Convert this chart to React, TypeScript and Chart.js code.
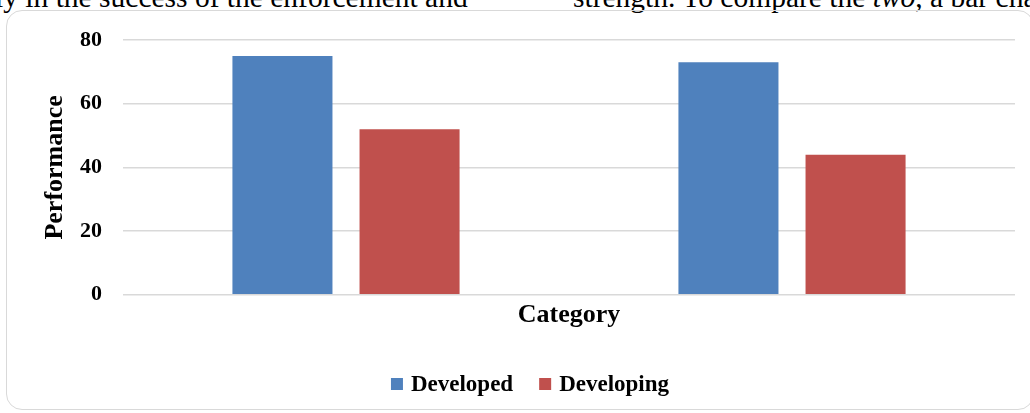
import React, { useEffect, useRef } from "react";
import { Chart, registerables } from "chart.js";

Chart.register(...registerables);

// Chart data
const categories = ["", ""];
const seriesNames = ["Developed", "Developing"];
const developed = [75, 73];
const developing = [52, 44];
const yTicks = [0, 20, 40, 60, 80];
const xAxisTitle = "Category";
const yAxisTitle = "Performance";

// Surrounding document text
const leftLine = "ly in the success of the enforcement and";
const rightLineStart = "strength. To compare the ";
const rightLineItalic = "two";
const rightLineEnd = ", a bar chart";

const BLUE = "#4f81bd";
const RED = "#c0504d";
const GRID = "#d9d9d9";
const SERIF = "'Liberation Serif', 'Times New Roman', serif";

const PAD_LEFT = 40;
const PLOT_LEFT = 123;
const LEGEND_CENTER_X = 530;
const LEGEND_BASELINE = 391;

// Legend drawn as a single centred row of square swatches under the axis title
const bottomLegend = {
  id: "bottomLegend",
  afterDraw(chart: any) {
    const ctx: CanvasRenderingContext2D = chart.ctx;
    ctx.save();
    ctx.font = `bold 23px ${SERIF}`;
    ctx.textBaseline = "alphabetic";
    ctx.textAlign = "left";
    const box = 12;
    const gap = 8;
    const itemGap = 26;
    const items = chart.data.datasets.map((ds: any) => ({
      label: ds.label as string,
      color: ds.backgroundColor as string,
      w: ctx.measureText(ds.label).width,
    }));
    const total = items.reduce(
      (s: number, it: any, i: number) => s + box + gap + it.w + (i ? itemGap : 0),
      0
    );
    let x = LEGEND_CENTER_X - total / 2;
    items.forEach((it: any) => {
      ctx.fillStyle = it.color;
      ctx.fillRect(x, LEGEND_BASELINE - 13, box, box);
      x += box + gap;
      ctx.fillStyle = "#000";
      ctx.fillText(it.label, x, LEGEND_BASELINE);
      x += it.w + itemGap;
    });
    ctx.restore();
  },
};

const docTextStyle: React.CSSProperties = {
  position: "absolute",
  top: -17,
  fontFamily: SERIF,
  fontSize: 29.5,
  lineHeight: "29.5px",
  whiteSpace: "nowrap",
  color: "#000",
};

export default function App() {
  const canvasRef = useRef<HTMLCanvasElement | null>(null);

  useEffect(() => {
    if (!canvasRef.current) return;
    const titleFont = { family: SERIF, size: 26, weight: "bold" as const };
    const chart = new Chart(canvasRef.current, {
      type: "bar",
      data: {
        labels: categories,
        datasets: [
          { label: seriesNames[0], data: developed, backgroundColor: BLUE, borderWidth: 0 },
          { label: seriesNames[1], data: developing, backgroundColor: RED, borderWidth: 0 },
        ],
      },
      options: {
        responsive: false,
        animation: false,
        devicePixelRatio: 1,
        datasets: { bar: { barPercentage: 0.787, categoryPercentage: 0.57 } },
        layout: { padding: { left: PAD_LEFT, right: 15, top: 40, bottom: 82 } },
        plugins: { legend: { display: false }, tooltip: { enabled: false } },
        scales: {
          x: {
            type: "category",
            grid: { display: false, drawTicks: false },
            border: { display: false },
            ticks: { display: false },
            title: {
              display: true,
              text: xAxisTitle,
              color: "#000",
              font: titleFont,
              padding: { top: 5, bottom: 0 },
            },
          },
          y: {
            min: yTicks[0],
            max: yTicks[yTicks.length - 1],
            afterBuildTicks(scale: any) {
              scale.ticks = yTicks.map((v) => ({ value: v }));
            },
            afterFit(scale: any) {
              scale.width = PLOT_LEFT - PAD_LEFT;
            },
            ticks: {
              padding: 21,
              color: "#000",
              font: { family: SERIF, size: 22, weight: "bold" },
            },
            grid: { color: GRID, lineWidth: 1.5, drawTicks: false },
            border: { display: false },
            title: {
              display: true,
              text: yAxisTitle,
              color: "#000",
              font: titleFont,
              padding: { top: 0, bottom: 0 },
            },
          },
        },
      },
      plugins: [bottomLegend],
    });
    return () => chart.destroy();
  }, []);

  return (
    <div
      style={{
        position: "fixed",
        left: 0,
        top: 0,
        width: 1030,
        height: 413,
        overflow: "hidden",
        background: "#fff",
      }}
    >
      <div style={{ ...docTextStyle, left: -5 }}>{leftLine}</div>
      <div style={{ ...docTextStyle, left: 573 }}>
        {rightLineStart}
        <i>{rightLineItalic}</i>
        {rightLineEnd}
      </div>
      <div
        style={{
          position: "absolute",
          left: 6,
          top: 10,
          width: 1028,
          height: 400,
          boxSizing: "border-box",
          border: `1.5px solid ${GRID}`,
          borderRadius: 16,
        }}
      />
      <canvas
        ref={canvasRef}
        width={1030}
        height={413}
        style={{ position: "absolute", left: 0, top: 0, width: 1030, height: 413 }}
      />
    </div>
  );
}
